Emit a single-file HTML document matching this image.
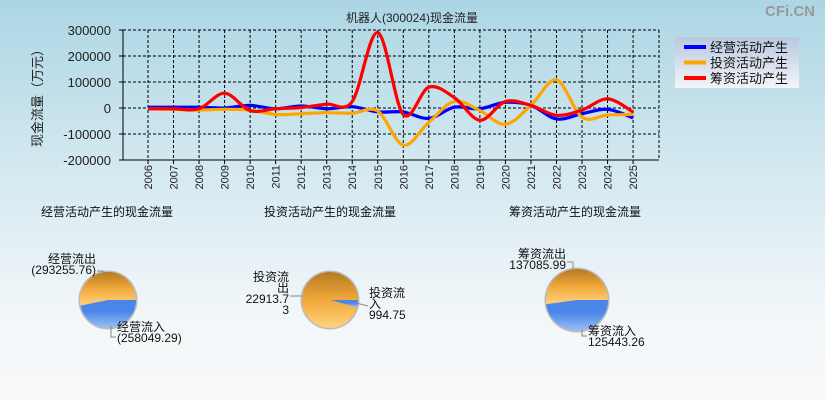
<!DOCTYPE html>
<html><head><meta charset="utf-8">
<style>
html{margin:0;padding:0;width:825px;height:400px;overflow:hidden;background:linear-gradient(#acd6e4 0%,#d6eaf1 45%,#f3f7f9 80%,#f8f9fa 100%) no-repeat;background-size:825px 400px;}
body{margin:0;padding:0;width:825px;height:400px;overflow:hidden;font-family:"Liberation Sans","Noto Sans CJK SC",sans-serif;}
svg{display:block;}
svg text{font-family:"Liberation Sans","Noto Sans CJK SC",sans-serif;}
</style></head>
<body>
<svg id="c" width="825" height="400">
<defs>
<linearGradient id="og" x1="0" y1="0" x2="0" y2="1"><stop offset="0" stop-color="#b57a22"/><stop offset="0.5" stop-color="#f2a93a"/><stop offset="1" stop-color="#ffd27e"/></linearGradient>
<linearGradient id="bg" x1="0" y1="0" x2="0" y2="1"><stop offset="0.4" stop-color="#4a86e8"/><stop offset="1" stop-color="#9cc0f5"/></linearGradient>
<linearGradient id="lg" x1="0" y1="0" x2="0" y2="1"><stop offset="0" stop-color="#b8c8e0"/><stop offset="1" stop-color="#f4f4f8"/></linearGradient>
</defs>
<text x="412" y="22" font-size="12" text-anchor="middle" fill="#222">机器人(300024)现金流量</text>
<text x="790" y="16" font-size="15" text-anchor="middle" fill="#999" font-weight="bold">CFi.CN</text>
<g id="plot"></g>
<g id="legend">
<rect x="675" y="37" width="124" height="51" fill="url(#lg)"/>
</g>
<g id="pies"></g>
</svg>
<script>
const years=["2006","2007","2008","2009","2010","2011","2012","2013","2014","2015","2016","2017","2018","2019","2020","2021","2022","2023","2024","2025"];
const operating=[3000,3000,3000,0,10000,-3000,8000,-3000,5000,-15000,-15000,-40000,3000,-3000,22000,10000,-42000,-22000,-5000,-38000];
const investing=[-3000,-5000,-8000,-5000,-8000,-25000,-22000,-18000,-20000,-12000,-143000,-55000,25000,-10000,-63000,10000,108000,-35000,-27000,-25000];
const financing=[-3000,-3000,-3000,57000,-10000,-3000,2000,15000,25000,290000,-25000,80000,40000,-47000,25000,10000,-28000,-8000,35000,-15000];
const yTicks=[300000,200000,100000,0,-100000,-200000];
const seriesNames=["经营活动产生","投资活动产生","筹资活动产生"];
const pieTitles=["经营活动产生的现金流量","投资活动产生的现金流量","筹资活动产生的现金流量"];
const pieOut=[293255.76,22913.73,137085.99];
const pieIn=[258049.29,994.75,125443.26];

const NS="http://www.w3.org/2000/svg";
function mk(tag,attrs,parent){const e=document.createElementNS(NS,tag);for(const k in attrs)e.setAttribute(k,attrs[k]);parent.appendChild(e);return e;}
const L=123,R=659,T=30,B=160,ymax=300000,ymin=-200000;
const x0=148,dx=25.53;
const xs=i=>x0+i*dx;
const ys=v=>T+(ymax-v)/(ymax-ymin)*(B-T);
const plot=document.getElementById('plot');
yTicks.forEach(v=>{
  const l=mk('line',{x1:L,x2:R,y1:ys(v),y2:ys(v),stroke:'#000','stroke-dasharray':'3,2','stroke-width':1},plot);
  
  
  const t=mk('text',{x:L-12,y:ys(v)+5,'font-size':13,'text-anchor':'end',fill:'#222'},plot);
  t.textContent=v;
  
  
  mk('line',{x1:L-4,x2:L,y1:ys(v),y2:ys(v),stroke:'#000'},plot);
});
years.forEach((y,i)=>{
  const l=mk('line',{x1:xs(i),x2:xs(i),y1:T,y2:B,stroke:'#000','stroke-dasharray':'3,2','stroke-width':1},plot);
  
  
  mk('line',{x1:xs(i),x2:xs(i),y1:B,y2:B+4,stroke:'#000'},plot);
  const t=mk('text',{x:0,y:0,'font-size':11,'text-anchor':'end',fill:'#222',transform:`translate(${xs(i)+4},${B+5}) rotate(-90)`},plot);
  t.textContent=y;
  
  
});
mk('line',{x1:R,x2:R,y1:T,y2:B,stroke:'#000','stroke-dasharray':'3,2'},plot);
mk('line',{x1:L,x2:R,y1:T,y2:T,stroke:'#000','stroke-dasharray':'3,2'},plot);
mk('line',{x1:L,x2:L,y1:T,y2:B,stroke:'#000'},plot);
mk('line',{x1:L,x2:R,y1:B,y2:B,stroke:'#000'},plot);
const yt=mk('text',{x:0,y:0,'font-size':13,'text-anchor':'middle',fill:'#222',transform:'translate(42,95) rotate(-90)'},plot);
yt.textContent='现金流量（万元）';



function smooth(vals){
  const p=vals.map((v,i)=>[xs(i),ys(v)]);
  let d=`M${p[0][0]},${p[0][1]}`;
  for(let i=0;i<p.length-1;i++){
    const a=p[i-1]||p[i],b=p[i],c=p[i+1],e=p[i+2]||c;
    const c1=[b[0]+(c[0]-a[0])/6,b[1]+(c[1]-a[1])/6],c2=[c[0]-(e[0]-b[0])/6,c[1]-(e[1]-b[1])/6];
    d+=` C${c1[0]},${c1[1]} ${c2[0]},${c2[1]} ${c[0]},${c[1]}`;
  }
  return d;
}
const colors=['#0000ff','#ffa500','#ff0000'];
const series=[operating,investing,financing];
const snames=['operating-line','investing-line','financing-line'];
series.forEach((s,k)=>{
  const p=mk('path',{d:smooth(s),fill:'none',stroke:colors[k],'stroke-width':3.2,'stroke-linejoin':'round'},plot);
  
  
});
const lg=document.getElementById('legend');
seriesNames.forEach((n,k)=>{
  const y=47+k*15.5;
  mk('line',{x1:684,x2:706,y1:y,y2:y,stroke:colors[k],'stroke-width':4},lg);
  const t=mk('text',{x:710,y:y+5,'font-size':13,fill:'#111'},lg);
  t.textContent=n;
  
  
});
const pies=document.getElementById('pies');
const cx=[108,330,577],cy=[300,300,300],rr=[28,28,31],tx=[107,330,575];
function arc(c,y,r,a0,a1){
  const p0=[c+r*Math.cos(a0),y+r*Math.sin(a0)],p1=[c+r*Math.cos(a1),y+r*Math.sin(a1)];
  return `M${c},${y} L${p0[0]},${p0[1]} A${r},${r} 0 ${a1-a0>Math.PI?1:0} 1 ${p1[0]},${p1[1]} Z`;
}
for(let k=0;k<3;k++){
  const g=mk('g',{},pies);
  
  
  const t=mk('text',{x:tx[k],y:216,'font-size':12,'text-anchor':'middle',fill:'#111'},g);
  t.textContent=pieTitles[k];
  const tot=pieOut[k]+pieIn[k],fb=pieIn[k]/tot*2*Math.PI;
  mk('circle',{cx:cx[k],cy:cy[k],r:rr[k]+1.5,fill:'#bbb'},g);
  const o=mk('path',{d:arc(cx[k],cy[k],rr[k],fb,2*Math.PI),fill:'url(#og)'},g);
  
  
  const b=mk('path',{d:arc(cx[k],cy[k],rr[k],0,fb),fill:'url(#bg)'},g);
  
  
}
function lbl(x,y,str,anchor,g){str.split('\n').forEach((s,i)=>{const t=mk('text',{x:x,y:y+i*11,'font-size':12,'text-anchor':anchor,fill:'#111'},g);t.textContent=s;});}
const lab=mk('g',{},pies);


lbl(96,263,'经营流出','end',lab);lbl(96,274,'(293255.76)','end',lab);
mk('polyline',{points:'97,271 103,271 103,275',fill:'none',stroke:'#888'},lab);
lbl(117,331,'经营流入','start',lab);lbl(117,342,'(258049.29)','start',lab);
mk('polyline',{points:'111,326 111,337 116,337',fill:'none',stroke:'#888'},lab);
lbl(289,281,'投资流','end',lab);lbl(289,292,'出','end',lab);lbl(289,303,'22913.7','end',lab);lbl(289,314,'3','end',lab);
mk('polyline',{points:'290,296 302,296',fill:'none',stroke:'#888'},lab);
lbl(369,297,'投资流','start',lab);lbl(369,308,'入','start',lab);lbl(369,319,'994.75','start',lab);
mk('polyline',{points:'356,303 368,306',fill:'none',stroke:'#888'},lab);
lbl(566,258,'筹资流出','end',lab);lbl(566,269,'137085.99','end',lab);
mk('polyline',{points:'567,262 573,262 573,269',fill:'none',stroke:'#888'},lab);
lbl(588,335,'筹资流入','start',lab);lbl(588,346,'125443.26','start',lab);
mk('polyline',{points:'582,330 582,336 587,336',fill:'none',stroke:'#888'},lab);
</script>
</body></html>
